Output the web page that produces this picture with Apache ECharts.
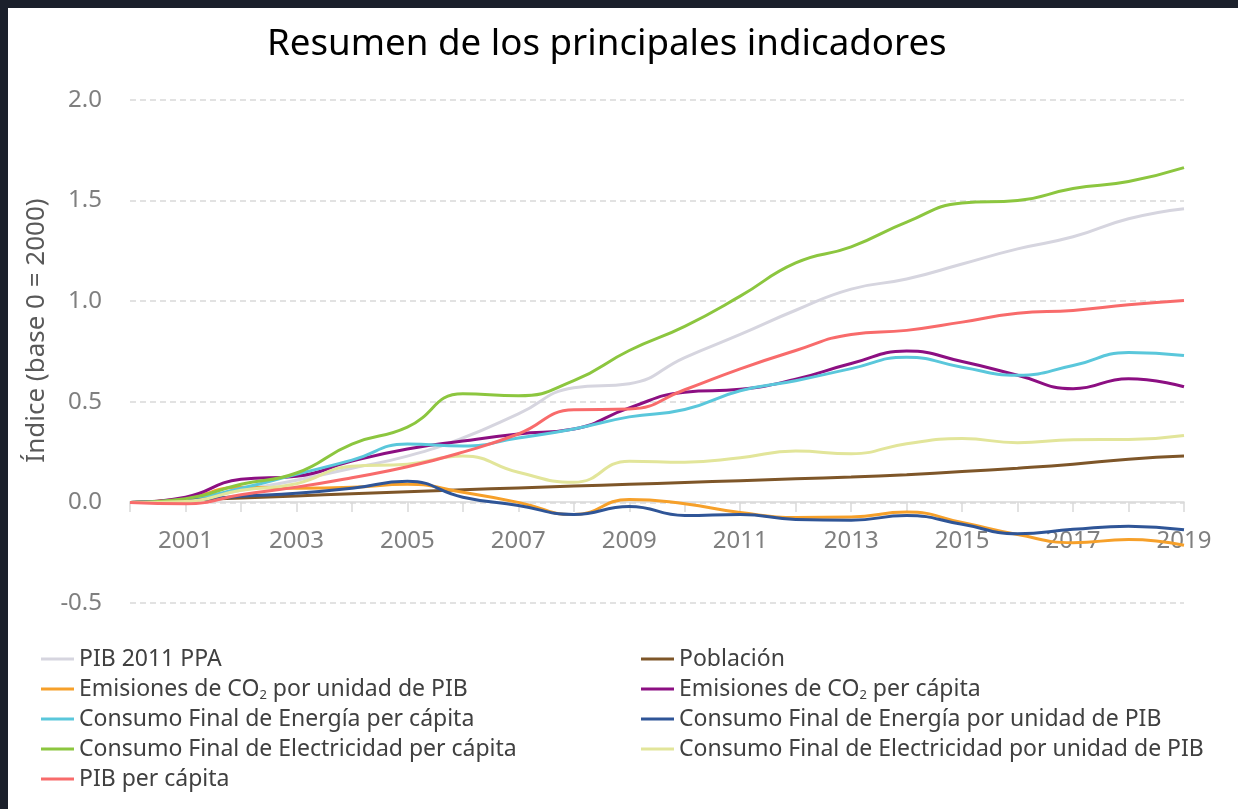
<!DOCTYPE html>
<html><head><meta charset="utf-8">
<script src="https://cdn.jsdelivr.net/npm/echarts@6/dist/echarts.min.js"></script>
<style>
html,body{margin:0;padding:0;background:#1b202b;width:1238px;height:809px;overflow:hidden}
#c{position:absolute;left:8px;top:8px;width:1230px;height:801px;background:#ffffff}
</style>
</head><body><div id="c"></div>
<script>
const years = ['2000','2001','2002','2003','2004','2005','2006','2007','2008','2009','2010','2011','2012','2013','2014','2015','2016','2017','2018','2019'];
const yTicks = [-0.5, 0, 0.5, 1.0, 1.5, 2.0];

const pib2011PPA      = [0, 0.01, 0.06, 0.11, 0.17, 0.23, 0.32, 0.44, 0.57, 0.59, 0.72, 0.835, 0.955, 1.06, 1.11, 1.185, 1.26, 1.32, 1.41, 1.46];
const poblacion       = [0, 0.012, 0.022, 0.032, 0.043, 0.053, 0.063, 0.072, 0.081, 0.09, 0.099, 0.108, 0.117, 0.126, 0.138, 0.153, 0.17, 0.19, 0.215, 0.23];
const co2PorPIB       = [0, 0.02, 0.075, 0.07, 0.075, 0.09, 0.05, 0.0, -0.06, 0.015, -0.007, -0.05, -0.075, -0.073, -0.048, -0.1, -0.16, -0.2, -0.185, -0.213];
const co2PerCapita    = [0, 0.026, 0.115, 0.13, 0.205, 0.265, 0.305, 0.34, 0.365, 0.47, 0.548, 0.562, 0.612, 0.69, 0.752, 0.70, 0.632, 0.565, 0.615, 0.575];
const energiaPerCap   = [0, 0.015, 0.07, 0.14, 0.21, 0.29, 0.28, 0.32, 0.365, 0.425, 0.462, 0.555, 0.605, 0.665, 0.722, 0.672, 0.632, 0.68, 0.745, 0.73];
const energiaPorPIB   = [0, 0.01, 0.03, 0.045, 0.07, 0.105, 0.026, -0.015, -0.06, -0.02, -0.065, -0.06, -0.085, -0.089, -0.065, -0.109, -0.156, -0.134, -0.118, -0.136];
const electPerCap     = [0, 0.018, 0.09, 0.146, 0.29, 0.374, 0.54, 0.53, 0.605, 0.755, 0.875, 1.025, 1.19, 1.27, 1.393, 1.488, 1.50, 1.56, 1.595, 1.664];
const electPorPIB     = [0, 0.005, 0.06, 0.093, 0.18, 0.19, 0.23, 0.15, 0.10, 0.205, 0.20, 0.222, 0.255, 0.242, 0.292, 0.317, 0.297, 0.312, 0.313, 0.333];
const pibPerCapita    = [0, -0.007, 0.038, 0.076, 0.123, 0.177, 0.25, 0.34, 0.46, 0.464, 0.56, 0.664, 0.755, 0.835, 0.855, 0.896, 0.94, 0.954, 0.982, 1.003];

const seriesNames = [
  'PIB 2011 PPA',
  'Población',
  'Emisiones de CO2 por unidad de PIB',
  'Emisiones de CO2 per cápita',
  'Consumo Final de Energía per cápita',
  'Consumo Final de Energía por unidad de PIB',
  'Consumo Final de Electricidad per cápita',
  'Consumo Final de Electricidad por unidad de PIB',
  'PIB per cápita'
];
const seriesData = [pib2011PPA, poblacion, co2PorPIB, co2PerCapita, energiaPerCap, energiaPorPIB, electPerCap, electPorPIB, pibPerCapita];
const seriesColors = ['#d6d5df', '#7e5629', '#f6a02a', '#8c0f82', '#5ac7db', '#2f5597', '#8cc63f', '#e2e59a', '#f86b6b'];

const leftLegend = [seriesNames[0], seriesNames[2], seriesNames[4], seriesNames[6], seriesNames[8]];
const rightLegend = [seriesNames[1], seriesNames[3], seriesNames[5], seriesNames[7]];

const FONT = 'Noto Sans';
const legendText = {
  fontFamily: FONT, fontSize: 23, color: '#404040', lineHeight: 26,
  rich: { sub: { fontFamily: FONT, fontSize: 13, lineHeight: 10, color: '#404040', verticalAlign: 'bottom' } }
};
const fmt = n => n.replace('CO2', 'CO{sub|2}');

const chart = echarts.init(document.getElementById('c'), null, { renderer: 'canvas' });
chart.setOption({
  backgroundColor: '#ffffff',
  animation: false,
  title: {
    text: 'Resumen de los principales indicadores',
    left: 259, top: 18, padding: 0,
    textStyle: { fontFamily: FONT, fontSize: 36.7, fontWeight: 'normal', color: '#000000' }
  },
  grid: [
    { left: 122, right: 54, top: 92, bottom: 206, containLabel: false },
    { left: 122, right: 54, top: 92, bottom: 307, containLabel: false }
  ],
  legend: [
    { data: leftLegend, orient: 'vertical', left: 33, top: 638, padding: 0, itemGap: 4, itemWidth: 33, itemHeight: 3, icon: 'rect', formatter: fmt, textStyle: legendText },
    { data: rightLegend, orient: 'vertical', left: 633, top: 638, padding: 0, itemGap: 4, itemWidth: 33, itemHeight: 3, icon: 'rect', formatter: fmt, textStyle: legendText }
  ],
  xAxis: [
    { type: 'category', gridIndex: 0, data: years, boundaryGap: false, show: false },
    {
      type: 'category', gridIndex: 1, data: years, boundaryGap: false, position: 'bottom',
      axisLine: { onZero: false, lineStyle: { color: '#d9d9d9', width: 1.5 } },
      axisTick: { show: true, interval: 0, length: 10, lineStyle: { color: '#d9d9d9', width: 1.5 } },
      axisLabel: { interval: (i) => i % 2 === 1, fontFamily: FONT, fontSize: 24, color: '#7f7f7f', margin: 27 },
      splitLine: { show: false }
    }
  ],
  yAxis: [
    {
      type: 'value', gridIndex: 0, min: yTicks[0], max: yTicks[yTicks.length - 1], interval: 0.5,
      name: 'Índice (base 0 = 2000)', nameLocation: 'middle', nameGap: 78,
      nameTextStyle: { fontFamily: FONT, fontSize: 26, color: '#595959', padding: [0, 0, 0, 42] },
      axisLine: { show: false }, axisTick: { show: false },
      axisLabel: { fontFamily: FONT, fontSize: 24, color: '#7f7f7f', margin: 28, formatter: v => v.toFixed(1) },
      splitLine: { show: true, lineStyle: { color: '#d9d9d9', width: 1.5, type: [6, 4] } }
    },
    { type: 'value', gridIndex: 1, min: 0, max: 2, show: false, splitLine: { show: false } }
  ],
  series: seriesNames.map((n, i) => ({
    name: n, type: 'line', xAxisIndex: 0, yAxisIndex: 0, data: seriesData[i], smooth: true, symbol: 'none',
    lineStyle: { width: 3, color: seriesColors[i] }, itemStyle: { color: seriesColors[i] }
  }))
});
</script>
</body></html>
